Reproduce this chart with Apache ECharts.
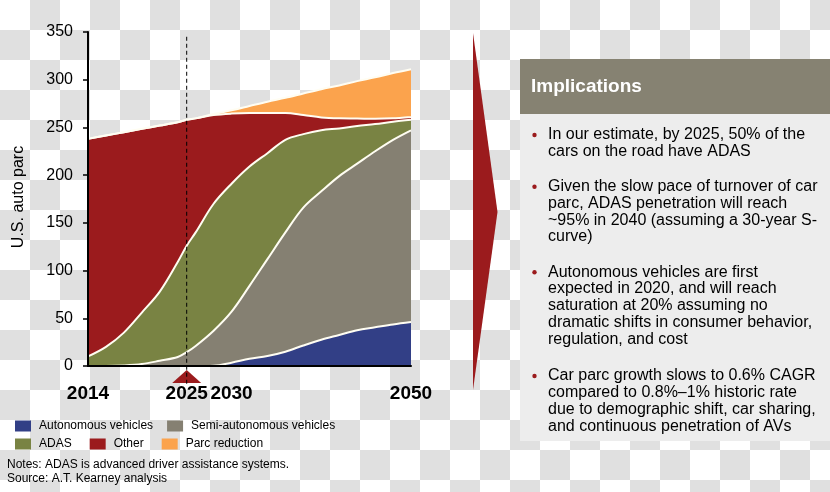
<!DOCTYPE html>
<html>
<head>
<meta charset="utf-8">
<script src="https://cdn.jsdelivr.net/npm/echarts@6/dist/echarts.min.js"></script>
<style>
html,body{margin:0;padding:0;width:830px;height:492px;overflow:hidden;
background:repeating-conic-gradient(#e0e0e0 0 25%, #ffffff 0 50%) 0 0/60px 60px;}
#c{width:830px;height:492px;}
</style>
</head>
<body>
<div id="c"></div>
<script>
// ---- data ----
const years = [2014, 2016, 2018, 2020, 2022, 2024, 2025, 2026, 2028, 2030, 2032, 2034, 2036, 2038, 2040, 2042, 2044, 2046, 2048, 2050];
const autonomous = [0, 0, 0, 0, 0, 0, 0, 0, 0.3, 3.5, 7.5, 10.5, 15, 21.5, 27.5, 32.5, 37.5, 40.5, 43.5, 46];
const semiAutonomous = [0, 0, 0.5, 2, 5.5, 9.5, 14.5, 21, 36.7, 53.5, 76.5, 101.5, 125, 144.5, 155.5, 166.5, 174.5, 184.5, 193.5, 201];
const adas = [10, 20, 34.5, 54, 72.5, 99.5, 111.5, 119, 133, 134, 125, 111, 97, 77, 64, 50, 39.5, 28.5, 19, 11];
const other = [228, 221.5, 210, 192.5, 174, 146.5, 132, 119.5, 93, 73.5, 56, 42, 28, 20, 13.5, 10.5, 7.8, 5.5, 3.5, 3];
const parcReduction = [0, 0, 0, 0, 0, 0, 0, 0, 1, 3.5, 7.5, 12, 16, 22.5, 29.5, 34.5, 39.2, 43.5, 47.5, 50];
const xTickLabels = [2014, 2025, 2030, 2050];
const markerYear = 2025;
const seriesNames = ['Autonomous vehicles', 'Semi-autonomous vehicles', 'ADAS', 'Other', 'Parc reduction'];
const seriesColors = ['#323f86', '#858072', '#798343', '#9b1b1d', '#fba34d'];
const seriesValues = [autonomous, semiAutonomous, adas, other, parcReduction];
const bullets = [
  'In our estimate, by 2025, 50% of the\ncars on the road have ADAS',
  'Given the slow pace of turnover of car\nparc, ADAS penetration will reach\n~95% in 2040 (assuming a 30-year S-\ncurve)',
  'Autonomous vehicles are first\nexpected in 2020, and will reach\nsaturation at 20% assuming no\ndramatic shifts in consumer behavior,\nregulation, and cost',
  'Car parc growth slows to 0.6% CAGR\ncompared to 0.8%\u20131% historic rate\ndue to demographic shift, car sharing,\nand continuous penetration of AVs'
];
// ---- chart ----
const FONT = "'Liberation Sans', Arial, Helvetica, sans-serif";
const chart = echarts.init(document.getElementById('c'), null, {renderer: 'canvas'});

// cumulative (stacked) tops, computed from the per-category values
const cumulative = [];
seriesValues.forEach((arr, k) => {
  cumulative.push(arr.map((v, i) => v + (k > 0 ? cumulative[k - 1][i] : 0)));
});
// draw from the top layer down so each lower layer covers the one above it
const series = [];
for (let k = seriesNames.length - 1; k >= 0; k--) {
  series.push({
    name: seriesNames[k],
    type: 'line',
    smooth: 0.35,
    showSymbol: false,
    symbol: 'none',
    itemStyle: {color: seriesColors[k]},
    lineStyle: {color: '#fffdf2', width: 2},
    areaStyle: {color: seriesColors[k], opacity: 1, origin: 'start'},
    emphasis: {disabled: true},
    data: years.map((y, i) => [y, Math.round(cumulative[k][i] * 10) / 10])
  });
}

const lineH = 16.7;
const bulletTops = [135, 186.7, 272.3, 376];
const graphics = [];
graphics.push({type: 'polygon', shape: {points: [[473, 33], [497.5, 212], [473, 390]]}, style: {fill: '#9b1b1d'}});
graphics.push({type: 'rect', shape: {x: 520, y: 114, width: 310, height: 327}, style: {fill: '#ededed'}});
graphics.push({type: 'rect', shape: {x: 520, y: 59, width: 310, height: 55}, style: {fill: '#868272'}});
graphics.push({type: 'text', style: {text: 'Implications', x: 531, y: 87, fill: '#ffffff', font: 'bold 19px ' + FONT, verticalAlign: 'middle'}});
bullets.forEach((t, i) => {
  graphics.push({type: 'circle', shape: {cx: 534.5, cy: bulletTops[i], r: 2.2}, style: {fill: '#9b1b1d'}});
  graphics.push({type: 'text', style: {text: t, x: 548, y: bulletTops[i] - lineH / 2, fill: '#000000', font: '16px ' + FONT, lineHeight: lineH, verticalAlign: 'top'}});
});
graphics.push({type: 'text', x: 19, y: 197, rotation: Math.PI / 2, style: {text: 'U.S. auto parc', x: 0, y: 0, fill: '#000', font: '16px ' + FONT, align: 'center', verticalAlign: 'middle'}});
graphics.push({type: 'text', style: {text: 'Notes: ADAS is advanced driver assistance systems.', x: 7, y: 464.5, fill: '#000', font: '12px ' + FONT, verticalAlign: 'middle'}});
graphics.push({type: 'text', style: {text: 'Source: A.T. Kearney analysis', x: 7, y: 478.5, fill: '#000', font: '12px ' + FONT, verticalAlign: 'middle'}});

const legendBase = {
  orient: 'horizontal', left: 15, padding: 0, itemWidth: 16, itemHeight: 11, icon: 'rect',
  selectedMode: false,
  textStyle: {fontSize: 12, color: '#000', fontFamily: FONT, padding: [0, 0, 0, 3], lineHeight: 14},
  itemStyle: {borderWidth: 0}
};

chart.setOption({
  backgroundColor: 'transparent',
  animation: false,
  textStyle: {fontFamily: FONT},
  grid: {left: 88, right: 419, top: 32, bottom: 126, containLabel: false},
  legend: [
    Object.assign({}, legendBase, {top: 419, itemGap: 14, data: seriesNames.slice(0, 2)}),
    Object.assign({}, legendBase, {top: 437, itemGap: 18, data: seriesNames.slice(2)})
  ],
  xAxis: {
    type: 'value', min: 2014, max: 2050, z: 10,
    axisLine: {show: true, lineStyle: {color: '#000', width: 2}},
    axisTick: {show: false},
    splitLine: {show: false},
    axisLabel: {customValues: xTickLabels, fontSize: 19, fontWeight: 'bold', color: '#000', margin: 18, fontFamily: FONT,
      formatter: v => String(v)}
  },
  yAxis: {
    type: 'value', min: 0, max: 350, interval: 50, z: 10,
    axisLine: {show: true, lineStyle: {color: '#000', width: 2}},
    axisTick: {show: true, inside: false, length: 5, lineStyle: {color: '#000', width: 1.5}},
    splitLine: {show: false},
    axisLabel: {fontSize: 16, color: '#000', margin: 15, fontFamily: FONT}
  },
  graphic: graphics,
  series: series
});

const pTop = chart.convertToPixel({gridIndex: 0}, [markerYear, 345]);
const pAxis = chart.convertToPixel({gridIndex: 0}, [markerYear, 0]);
const mx = pAxis[0], my = pAxis[1];
chart.setOption({
  graphic: graphics.concat([
    {type: 'line', z: 20, shape: {x1: mx, y1: pTop[1], x2: mx, y2: my + 20}, style: {stroke: '#000', lineWidth: 1, lineDash: [4, 3]}},
    {type: 'polygon', z: 19, shape: {points: [[mx - 14.5, my + 17], [mx, my + 4], [mx + 14.5, my + 17]]}, style: {fill: '#9b1b1d'}}
  ])
}, {replaceMerge: ['graphic']});
</script>
</body>
</html>
